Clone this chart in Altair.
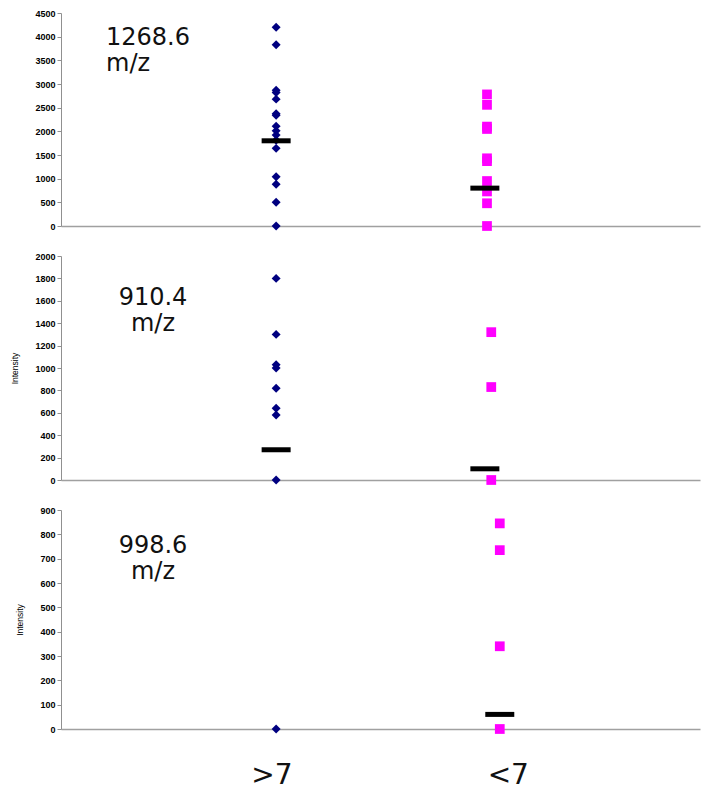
import altair as alt
import pandas as pd

# ---------------- data ----------------
panel_mz = ["1268.6", "910.4", "998.6"]
panel_unit = ["m/z", "m/z", "m/z"]
group_labels = [">7", "<7"]
group_label_x = [0.99, 2.1]

high_panel1 = [4200, 3830, 2870, 2820, 2680, 2370, 2340, 2110, 2010, 1920, 1810, 1640, 1040, 880, 500, 0]
low_panel1 = [2780, 2560, 2100, 2050, 1430, 1370, 950, 730, 480, 0]
high_panel2 = [1800, 1300, 1030, 1000, 820, 640, 580, 0]
low_panel2 = [1320, 830, 0]
high_panel3 = [0]
low_panel3 = [845, 735, 340, 0]

high_x = [1.01, 1.01, 1.01]
low_x = [2.0, 2.02, 2.06]
median_high = [1800, 270, None]
median_low = [800, 100, 60]
median_high_x = [1.01, 1.01, 1.01]
median_low_x = [1.99, 1.99, 2.06]

y_max = [4500, 2000, 900]
y_step = [500, 200, 100]
y_title = ["", "Intensity", "Intensity"]

highs = [high_panel1, high_panel2, high_panel3]
lows = [low_panel1, low_panel2, low_panel3]

# ---------------- layout ----------------
W = 639
heights = [213, 224, 219]
label_align = ["left", "center", "center"]
label1_x = [45, 92, 92]
label2_x = [45, 92, 92]
label_y = [32, 49, 43]
LINE_GAP = 25.5

FONT = "Liberation Sans"


def make_panel(i):
    hi_df = pd.DataFrame({"x": [high_x[i]] * len(highs[i]), "value": highs[i]})
    lo_df = pd.DataFrame({"x": [low_x[i]] * len(lows[i]), "value": lows[i]})
    med_x, med_v = [], []
    if median_high[i] is not None:
        med_x.append(median_high_x[i]); med_v.append(median_high[i])
    if median_low[i] is not None:
        med_x.append(median_low_x[i]); med_v.append(median_low[i])
    med_df = pd.DataFrame({"x": med_x, "value": med_v})

    x_enc = alt.X(
        "x:Q",
        scale=alt.Scale(domain=[0, 3], nice=False, zero=False),
        axis=alt.Axis(labels=False, ticks=False, grid=False, domainColor="#a0a0a0",
                      domainWidth=1.5, title=None),
    )
    yaxis_kw = dict(
        values=list(range(0, y_max[i] + 1, y_step[i])),
        format="d", labelOverlap=False, tickCount=len(range(0, y_max[i] + 1, y_step[i])),
        grid=False, tickSize=4, tickColor="#909090", domainColor="#909090",
        labelFont=FONT, labelFontSize=9, labelFontWeight="bold", labelColor="#000",
        labelPadding=2,
    )
    if y_title[i]:
        yaxis_kw.update(title=y_title[i], titleFont=FONT, titleFontSize=8.5,
                        titleFontWeight="normal", titlePadding=15, titleColor="#000")
    else:
        yaxis_kw.update(title=None)
    y_enc = alt.Y("value:Q", scale=alt.Scale(domain=[0, y_max[i]], nice=False),
                  axis=alt.Axis(**yaxis_kw))

    diamonds = alt.Chart(hi_df).mark_point(
        shape="diamond", filled=True, size=80, color="#000080", opacity=1
    ).encode(x=x_enc, y=y_enc)
    squares = alt.Chart(lo_df).mark_point(
        shape="square", filled=True, size=95, color="#FF00FF", opacity=1
    ).encode(x=x_enc, y=y_enc)
    medians = alt.Chart(med_df).mark_tick(
        orient="horizontal", size=29, thickness=5, color="black", opacity=1
    ).encode(x=x_enc, y=y_enc)
    line1 = alt.Chart(pd.DataFrame({"t": [panel_mz[i]]})).mark_text(
        align=label_align[i], baseline="alphabetic", fontSize=24, font="DejaVu Sans",
        color="#111"
    ).encode(text="t:N", x=alt.value(label1_x[i]), y=alt.value(label_y[i]))
    line2 = alt.Chart(pd.DataFrame({"t": [panel_unit[i]]})).mark_text(
        align=label_align[i], baseline="alphabetic", fontSize=24, font="DejaVu Sans",
        color="#111"
    ).encode(text="t:N", x=alt.value(label2_x[i]), y=alt.value(label_y[i] + LINE_GAP))

    layers = [diamonds, squares, medians, line1, line2]
    if i == 2:
        glabels = alt.Chart(
            pd.DataFrame({"g": group_labels, "x": group_label_x})
        ).mark_text(fontSize=28, font="DejaVu Sans", baseline="alphabetic", color="#111").encode(
            x=x_enc, text="g:N", y=alt.value(heights[i] + 55)
        )
        layers.append(glabels)
    return alt.layer(*layers).properties(width=W, height=heights[i])


chart = alt.vconcat(
    make_panel(0), make_panel(1), make_panel(2), spacing=30, bounds="flush"
).configure_view(stroke=None).properties(
    padding={"left": 10, "top": 9, "right": 5, "bottom": 0}
)

chart.save("out.html", embed_options={"renderer": "svg", "actions": False})
